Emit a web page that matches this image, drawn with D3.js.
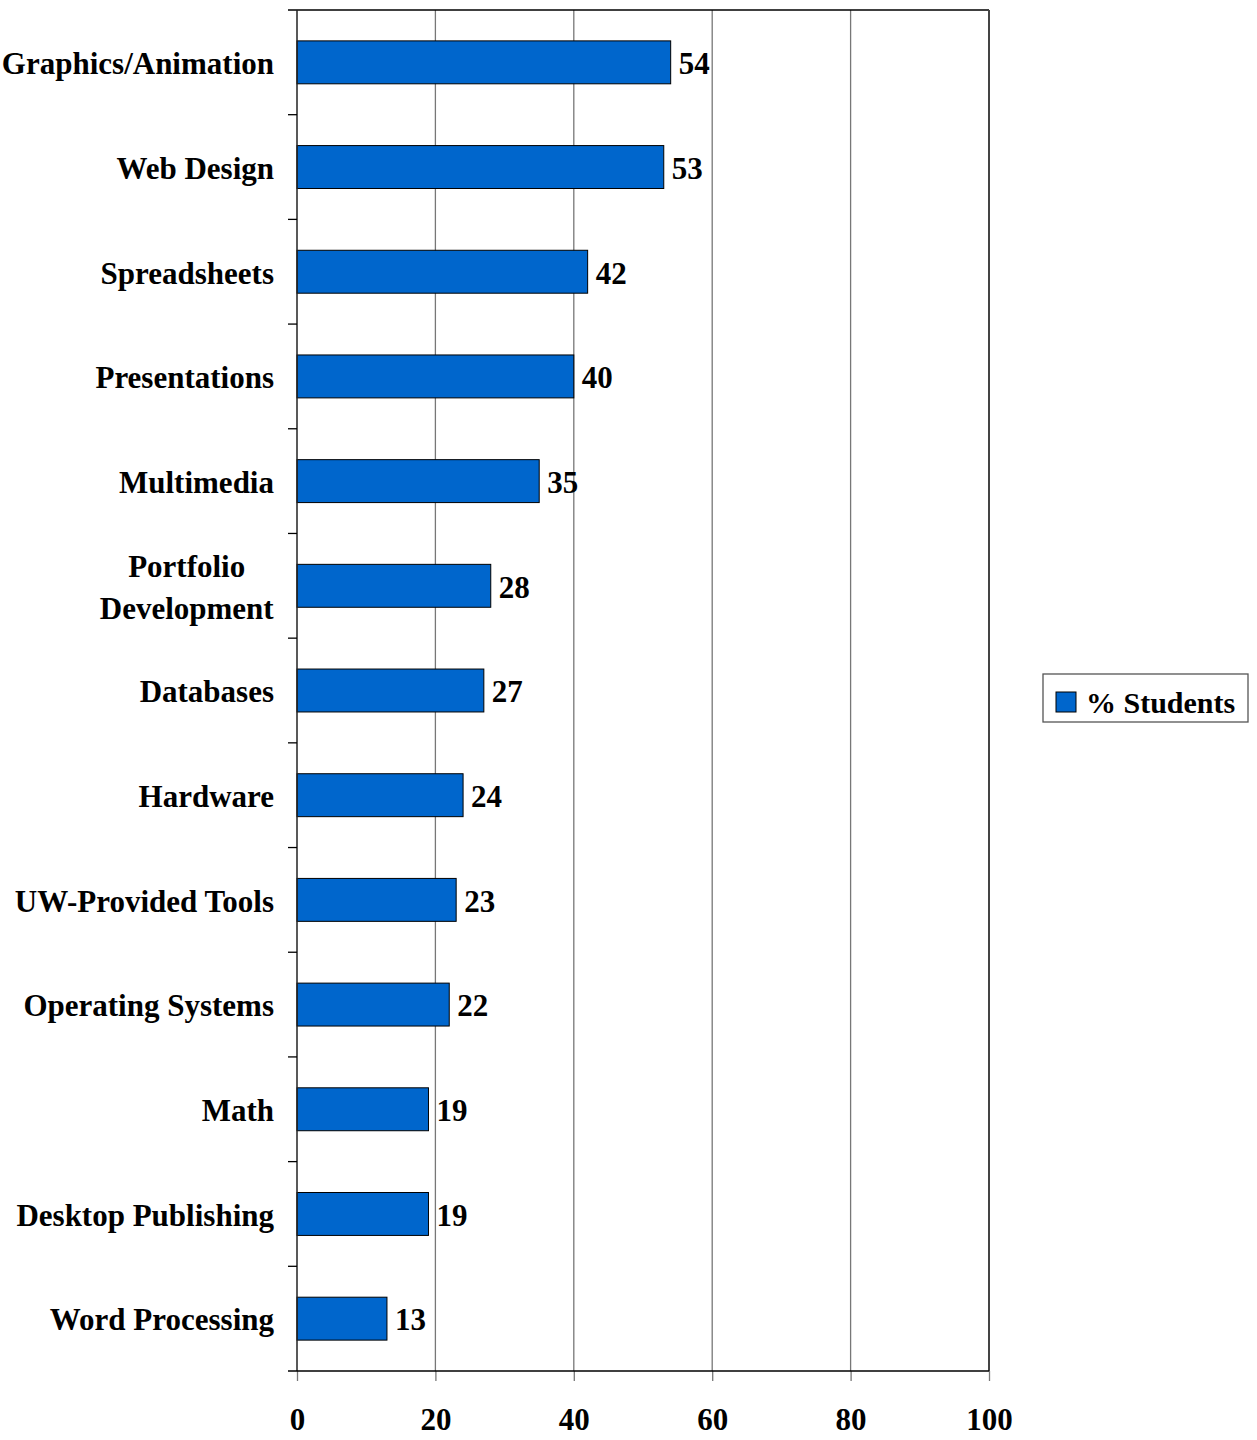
<!DOCTYPE html>
<html>
<head>
<meta charset="utf-8">
<script src="https://cdn.jsdelivr.net/npm/d3@7"></script>
<style>
  html, body { margin: 0; padding: 0; background: #fff; }
  svg { display: block; }
  text { font-family: "Liberation Serif", "Times New Roman", serif; font-weight: bold; fill: #000; }
</style>
</head>
<body>
<script>
// Topics students want covered, share of respondents (%)
const categories = [
  "Graphics/Animation", "Web Design", "Spreadsheets", "Presentations", "Multimedia",
  "Portfolio\nDevelopment", "Databases", "Hardware", "UW-Provided Tools",
  "Operating Systems", "Math", "Desktop Publishing", "Word Processing"
];
const values = [54, 53, 42, 40, 35, 28, 27, 24, 23, 22, 19, 19, 13];
const xTicks = [0, 20, 40, 60, 80, 100];
const seriesName = "% Students";

const W = 1257, H = 1440;
const plot = { left: 297, right: 989, top: 10, bottom: 1371 };
const FS = 31;

const svg = d3.select("body").append("svg").attr("width", W).attr("height", H);

const x = d3.scaleLinear().domain([0, 100]).range([plot.left, plot.right]);
const y = d3.scaleBand().domain(categories).range([plot.top, plot.bottom])
  .paddingInner(0.59).paddingOuter(0.295);
const yBands = d3.scaleBand().domain(categories).range([plot.top, plot.bottom]);

// vertical gridlines
svg.append("g").selectAll("line").data(xTicks.filter(d => d > 0 && d < 100)).join("line")
  .attr("x1", d => x(d)).attr("x2", d => x(d))
  .attr("y1", plot.top).attr("y2", plot.bottom)
  .attr("stroke", "#777").attr("stroke-width", 1.3);

// plot frame: top and right edges
svg.append("line").attr("x1", plot.left - 9).attr("x2", plot.right)
  .attr("y1", plot.top).attr("y2", plot.top).attr("stroke", "#000").attr("stroke-width", 1.5);
svg.append("line").attr("x1", plot.right).attr("x2", plot.right)
  .attr("y1", plot.top).attr("y2", plot.bottom).attr("stroke", "#444").attr("stroke-width", 2);

// bars
svg.append("g").selectAll("rect").data(values).join("rect")
  .attr("x", x(0))
  .attr("y", (d, i) => y(categories[i]))
  .attr("width", d => x(d) - x(0))
  .attr("height", y.bandwidth())
  .attr("fill", "#0066CC")
  .attr("stroke", "#000").attr("stroke-width", 1);

// value labels
svg.append("g").selectAll("text").data(values).join("text")
  .attr("x", d => x(d) + 8)
  .attr("y", (d, i) => y(categories[i]) + y.bandwidth() / 2)
  .attr("dy", "0.38em")
  .attr("font-size", FS)
  .text(d => d);

// left axis with ticks between categories
svg.append("line").attr("x1", plot.left).attr("x2", plot.left)
  .attr("y1", plot.top).attr("y2", plot.bottom).attr("stroke", "#222").attr("stroke-width", 1.5);
svg.append("g").selectAll("line").data(categories.slice(1)).join("line")
  .attr("x1", plot.left - 9).attr("x2", plot.left)
  .attr("y1", d => yBands(d)).attr("y2", d => yBands(d))
  .attr("stroke", "#000").attr("stroke-width", 1.3);

// category labels (multi-line labels are centred within a right-aligned block)
const catG = svg.append("g");
categories.forEach((c, i) => {
  const lines = c.split("\n");
  const cy = yBands(c) + yBands.bandwidth() / 2;
  const t = catG.append("text")
    .attr("font-size", FS)
    .attr("text-anchor", lines.length > 1 ? "middle" : "end");
  const lh = 42;
  lines.forEach((ln, j) => {
    t.append("tspan")
      .attr("x", 274)
      .attr("y", cy + (j - (lines.length - 1) / 2) * lh)
      .attr("dy", "0.38em")
      .text(ln);
  });
  if (lines.length > 1) {
    const bb = t.node().getBBox();
    t.selectAll("tspan").attr("x", 274 - bb.width / 2);
  }
});

// bottom axis
const xAxis = d3.axisBottom(x).tickValues(xTicks).tickSize(10).tickPadding(27);
const gx = svg.append("g").attr("transform", `translate(0,${plot.bottom})`).call(xAxis);
gx.select(".domain").remove();
gx.selectAll(".tick line").attr("stroke", "#777").attr("stroke-width", 1.3);
gx.selectAll(".tick text").attr("font-size", FS).attr("fill", "#000");
svg.append("line").attr("x1", plot.left - 9).attr("x2", plot.right)
  .attr("y1", plot.bottom).attr("y2", plot.bottom).attr("stroke", "#000").attr("stroke-width", 1.5);

// legend
const lg = svg.append("g").attr("transform", "translate(1043,674)");
lg.append("rect").attr("width", 205).attr("height", 48)
  .attr("fill", "#fff").attr("stroke", "#555").attr("stroke-width", 1.3);
lg.append("rect").attr("x", 13).attr("y", 18).attr("width", 20).attr("height", 20)
  .attr("fill", "#0066CC").attr("stroke", "#000").attr("stroke-width", 1);
lg.append("text").attr("x", 43).attr("y", 28).attr("dy", "0.35em")
  .attr("font-size", 30).text(seriesName);
</script>
</body>
</html>
